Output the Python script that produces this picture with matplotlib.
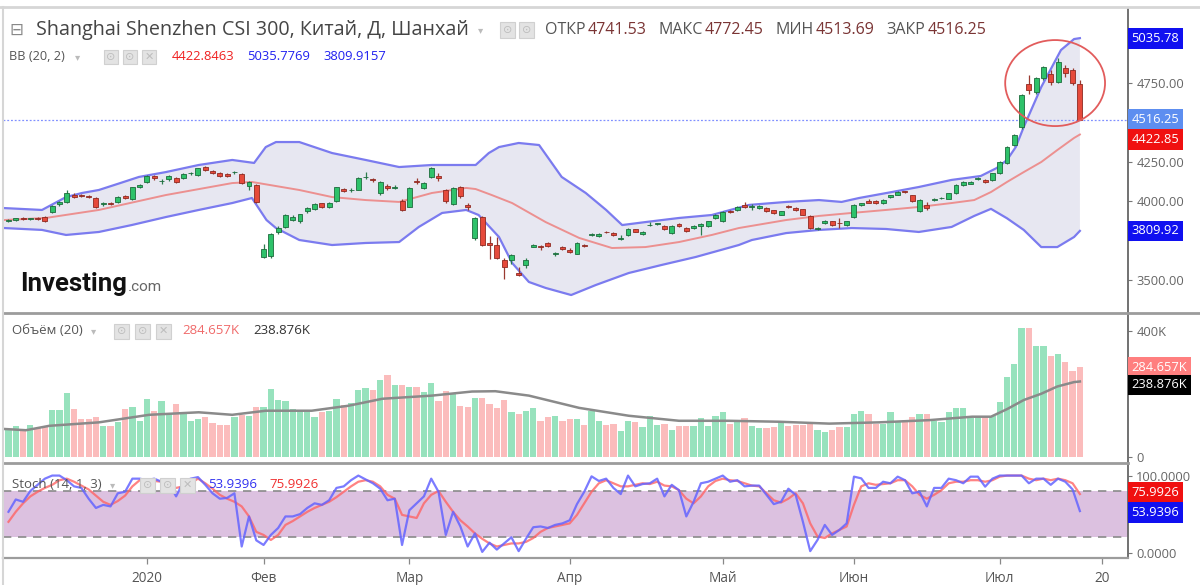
import numpy as np
import matplotlib
matplotlib.use("Agg")
import matplotlib.pyplot as plt
from matplotlib.patches import Ellipse, Rectangle
from matplotlib.lines import Line2D

plt.rcParams['font.family'] = ['Open Sans', 'DejaVu Sans']

W, H = 1200, 585

# bar index, 0 = 2 Jan 2020 (daily bars, 5 Dec 2019 .. 16 Jul 2020)
bars = np.arange(-19, 129)

opens = [3872, 3880, 3891, 3885, 3890, 3900, 3932, 3978, 3996, 4040,
         4036, 4034, 4019, 3980, 3987, 3996, 4030, 4011, 4087, 4123,
         4160, 4125, 4137, 4144, 4144, 4175, 4166, 4215, 4192, 4175,
         4172, 4182, 4172, 4095, 4102, 3646, 3650, 3800, 3835, 3880,
         3870, 3935, 3950, 3985, 3962, 3998, 4076, 4068, 4072, 4150,
         4140, 4050, 4095, 4085, 3998, 3965, 4128, 4082, 4152, 4160,
         4070, 3980, 4090, 3975, 3766, 3900, 3730, 3722, 3625, 3626,
         3545, 3592, 3710, 3712, 3730, 3660, 3710, 3690, 3665, 3718,
         3785, 3780, 3805, 3795, 3760, 3781, 3820, 3792, 3845, 3853,
         3843, 3796, 3853, 3826, 3826, 3840, 3838, 3890, 3871, 3935,
         3943, 3972, 3964, 3955, 3955, 3940, 3913, 3968, 3955, 3947,
         3905, 3824, 3860, 3870, 3860, 3849, 3900, 3976, 4003, 3998,
         3988, 4023, 4040, 4060, 4036, 3938, 3975, 4006, 4017, 4015,
         4049, 4100, 4110, 4140, 4136, 4136, 4178, 4243, 4356, 4470,
         4745, 4693, 4782, 4808, 4757, 4846, 4833, 4741.53]
highs = [3886, 3895, 3897, 3892, 3896, 3904, 3972, 3998, 4068, 4048,
         4044, 4040, 4025, 3992, 3994, 4032, 4036, 4092, 4105, 4165,
         4168, 4140, 4165, 4150, 4178, 4186, 4212, 4222, 4198, 4182,
         4178, 4190, 4176, 4128, 4108, 3727, 3795, 3840, 3915, 3910,
         3920, 3960, 3988, 3990, 3992, 4090, 4083, 4080, 4150, 4187,
         4145, 4128, 4110, 4100, 4010, 4088, 4145, 4118, 4215, 4175,
         4075, 4088, 4095, 3985, 3900, 3905, 3775, 3770, 3640, 3662,
         3580, 3635, 3728, 3720, 3740, 3675, 3715, 3700, 3740, 3725,
         3795, 3797, 3812, 3800, 3785, 3830, 3825, 3810, 3866, 3862,
         3848, 3848, 3858, 3832, 3848, 3860, 3875, 3915, 3936, 3940,
         3968, 3996, 3980, 3975, 3960, 3945, 3938, 3972, 3960, 3952,
         3910, 3835, 3880, 3875, 3890, 3875, 3980, 3990, 4010, 4004,
         4010, 4040, 4062, 4065, 4040, 4010, 3996, 4020, 4026, 4054,
         4106, 4130, 4128, 4150, 4140, 4180, 4252, 4348, 4426, 4680,
         4800, 4790, 4860, 4835, 4910, 4865, 4845, 4772.45]
lows = [3866, 3874, 3880, 3876, 3878, 3868, 3925, 3970, 3990, 4022,
        4026, 4018, 3955, 3970, 3975, 3990, 4015, 4005, 4082, 4115,
        4135, 4108, 4130, 4115, 4138, 4165, 4160, 4190, 4170, 4155,
        4152, 4170, 4105, 4068, 3990, 3640, 3640, 3790, 3828, 3870,
        3862, 3925, 3945, 3955, 3955, 3992, 4055, 4060, 4068, 4140,
        4120, 4040, 4070, 4075, 3935, 3960, 4105, 4075, 4148, 4130,
        3985, 3975, 4020, 3945, 3750, 3715, 3630, 3630, 3505, 3600,
        3520, 3575, 3705, 3690, 3708, 3650, 3688, 3672, 3660, 3705,
        3775, 3772, 3795, 3775, 3755, 3775, 3800, 3785, 3840, 3845,
        3815, 3790, 3835, 3800, 3820, 3785, 3832, 3885, 3866, 3922,
        3938, 3958, 3940, 3950, 3928, 3915, 3908, 3955, 3938, 3908,
        3820, 3815, 3855, 3843, 3826, 3843, 3895, 3970, 3985, 3980,
        3983, 4018, 4035, 4050, 3995, 3930, 3945, 4000, 4012, 4010,
        4045, 4095, 4105, 4135, 4112, 4130, 4172, 4238, 4350, 4460,
        4680, 4680, 4770, 4740, 4750, 4790, 4740, 4513.69]
closes = [3880, 3890, 3887, 3886, 3884, 3872, 3968, 3994, 4049, 4028,
          4032, 4025, 3964, 3986, 3984, 4027, 4022, 4087, 4100, 4159,
          4144, 4130, 4159, 4123, 4172, 4177, 4208, 4200, 4178, 4162,
          4160, 4185, 4112, 4123, 3996, 3693, 3790, 3826, 3910, 3900,
          3915, 3955, 3983, 3962, 3988, 4087, 4065, 4072, 4145, 4151,
          4134, 4123, 4085, 4088, 3943, 4083, 4118, 4112, 4208, 4148,
          3997, 4083, 4030, 3960, 3895, 3722, 3718, 3636, 3582, 3655,
          3530, 3625, 3722, 3708, 3715, 3668, 3695, 3678, 3735, 3712,
          3790, 3790, 3800, 3782, 3762, 3824, 3805, 3805, 3850, 3856,
          3822, 3843, 3840, 3808, 3843, 3855, 3871, 3910, 3932, 3930,
          3964, 3964, 3966, 3970, 3934, 3921, 3934, 3962, 3943, 3913,
          3826, 3828, 3875, 3848, 3858, 3870, 3975, 3985, 3990, 3985,
          4006, 4036, 4058, 4056, 4000, 4006, 3955, 4015, 4021, 4049,
          4102, 4120, 4124, 4145, 4119, 4175, 4248, 4343, 4420, 4674,
          4706, 4782, 4852, 4757, 4884, 4814, 4750, 4516.25]

volumes_k = [84, 98, 84, 100, 92, 95, 148, 148, 201, 151,
             120, 120, 125, 98, 98, 109, 151, 157, 114, 184,
             146, 176, 136, 167, 138, 114, 120, 127, 106, 102,
             102, 127, 133, 130, 159, 159, 214, 180, 178, 151,
             146, 141, 127, 141, 146, 184, 165, 169, 212, 217,
             212, 244, 260, 229, 229, 221, 221, 205, 234, 178,
             210, 200, 162, 159, 187, 186, 167, 155, 180, 141,
             136, 144, 155, 112, 125, 130, 114, 120, 120, 101,
             144, 112, 101, 103, 82, 112, 109, 95, 130, 101,
             103, 85, 98, 98, 98, 123, 98, 130, 141, 105,
             114, 123, 98, 91, 91, 93, 109, 98, 101, 101,
             103, 84, 79, 84, 95, 95, 136, 144, 136, 103,
             103, 141, 114, 117, 127, 136, 136, 114, 109, 141,
             155, 155, 123, 127, 130, 130, 173, 253, 293, 408,
             408, 351, 351, 319, 326, 301, 272, 284.657]

stoch_k = [53, 69, 66, 80, 88, 96, 100, 100, 94, 86,
           84, 70, 58, 62, 60, 77, 79, 96, 96, 94,
           96, 92, 90, 73, 92, 96, 98, 88, 77, 70,
           71, 77, 8, 47, 16, 10, 23, 32, 47, 47,
           50, 58, 64, 62, 68, 84, 86, 94, 100, 95,
           90, 83, 68, 70, 10, 55, 64, 73, 96, 79,
           23, 53, 34, 8, 25, 1, 13, 4, 12, 20,
           2, 18, 33, 34, 32, 36, 38, 42, 63, 79,
           99, 93, 96, 84, 76, 100, 86, 89, 90, 96,
           73, 88, 81, 47, 66, 90, 92, 96, 100, 92,
           94, 86, 87, 87, 75, 63, 66, 83, 75, 40,
           2, 16.5, 36, 23, 29.5, 38, 98.6, 96.4, 84, 84,
           92, 90, 98.6, 94, 77, 79, 60, 84, 84, 96,
           94, 90, 98.6, 98.6, 85.6, 96, 100, 100, 100, 100,
           90, 96, 96, 88, 96, 92, 82, 53.9396]
stoch_d = [40, 53, 64, 73, 79, 84, 88, 94, 96, 92,
           87, 82, 74, 66, 62, 67, 74, 86, 94, 94,
           93, 92, 86, 84, 86, 90, 96, 90, 83, 75,
           70, 66, 60, 47, 27, 23, 16.5, 23, 36, 41,
           47, 53, 58, 62, 66, 72, 79, 86, 92, 94,
           92, 86, 75, 70, 49, 47, 45, 64, 75, 80,
           66, 53, 42, 34, 25, 18, 12, 8, 10, 12,
           12, 14, 19, 27, 32, 34, 36, 38, 49, 64,
           79, 90, 94, 90, 86, 86, 88, 90, 89, 92,
           87, 86, 81, 70, 64, 73, 86, 93, 96, 94,
           93, 90, 87, 86, 77, 68, 65, 70, 77, 64,
           38, 21, 19, 25, 29.5, 34, 62, 86, 90, 88,
           89, 90, 94, 94, 86, 75, 70, 75, 81, 90,
           92, 92, 94, 94, 92, 94, 98.6, 100, 100, 100,
           96, 94, 96, 94, 96, 94, 90, 75.9926]

# Bollinger band lines, read at points along each curve (bar index, price)
bb_up_x = [-19.6, -14.4, -11.1, -8.9, -6.6, -3.8, -1.1, 2.6, 7.1, 11.7, 14.7, 16.3,
           17.7, 20.9, 25.4, 30, 34.6, 39.1, 45.1, 46.9, 48.3, 51, 53.8, 56.9,
           60.2, 63, 65.2, 68.4, 73, 77.5, 82.6, 87.7, 92.2, 95.3, 97.7, 102.2,
           105.9, 110.4, 114.4, 116.6, 118, 119.2, 120.3, 122.7, 125.4, 127.2, 128]
bb_up = [3955, 3943, 4025, 4051, 4070, 4112, 4153, 4184, 4229, 4261, 4242, 4343,
         4375, 4375, 4305, 4261, 4216, 4229, 4229, 4305, 4343, 4369, 4356, 4153,
         4051, 3943, 3847, 3866, 3892, 3911, 3975, 3994, 4006, 3994, 4019, 4057,
         4089, 4134, 4159, 4210, 4261, 4343, 4471, 4725, 4960, 5030, 5035.78]
bb_mid_x = [-19.6, -13.9, -6.6, 2.6, 11.7, 14.4, 20.9, 25.4, 30, 34.6, 39.1, 43.8,
            45.1, 47.3, 50.1, 54.7, 59.3, 63.8, 68.4, 73, 77.5, 81.2, 87.7, 92.2,
            96.7, 101.4, 105.9, 110.4, 113.5, 115.8, 118, 120.3, 122.7, 124.9, 127.2, 128]
bb_mid = [3879, 3892, 3943, 4038, 4114, 4121, 4070, 4025, 4006, 3994, 4051, 4083,
          4076, 4038, 3987, 3866, 3765, 3701, 3707, 3739, 3784, 3828, 3879, 3905,
          3924, 3943, 3962, 3987, 4006, 4057, 4121, 4184, 4248, 4324, 4401, 4422.85]
bb_low_x = [-19.6, -14.4, -11.1, -6.6, -2.1, 2.6, 7.1, 11.7, 14.4, 16.4, 17.7, 20.9,
            25.4, 30, 34.6, 37.3, 40.5, 43.8, 45.5, 48.3, 50.1, 52.4, 54.7, 58.2,
            61.6, 66.1, 70.6, 75.3, 81.2, 83, 87.7, 92.2, 96.7, 101.4, 105.9, 110.4,
            113.5, 115.8, 118, 120.3, 122.7, 124.9, 127.2, 128]
bb_low = [3828, 3816, 3784, 3803, 3847, 3898, 3943, 3987, 4019, 3879, 3828, 3752,
          3720, 3733, 3739, 3835, 3924, 3943, 3911, 3771, 3606, 3485, 3447, 3402,
          3466, 3542, 3593, 3644, 3720, 3752, 3796, 3816, 3828, 3822, 3803, 3835,
          3905, 3950, 3890, 3816, 3707, 3707, 3771, 3809.92]

# 20-bar volume average, read at points along the grey line (bar index, K)
vol_ma_x = [-19.6, -16.6, -13.4, -6.6, 0.3, 7.1, 11.7, 16.3, 22.6, 27.7, 32.3, 39.1,
            44.6, 47.8, 52.4, 59.3, 66.1, 73, 79.8, 86.7, 93.6, 100.4, 107.3, 113.2,
            115.8, 118, 120.3, 122.7, 124.9, 127.2, 128]
vol_ma_k = [88, 84, 98, 109, 133, 141, 133, 146, 146, 162, 184, 194,
            207, 208, 194, 155, 130, 114, 114, 111, 105, 109, 116, 127,
            127, 151, 180, 200, 223, 237, 238.876]

month_ticks = [0, 16, 36, 58, 79, 97, 117, 131]
month_labels = ['2020', 'Фев', 'Мар', 'Апр', 'Май', 'Июн', 'Июл', '20']
price_ticks = [3500, 3750, 4000, 4250, 4500, 4750, 5000]
# labels hidden behind the coloured value boxes on the chart
price_hidden = {3750, 4500, 5000}

o = np.array(opens); h = np.array(highs); l = np.array(lows); c = np.array(closes)
vol = np.array(volumes_k) * 1000
up = c >= o


def fx(x):
    return x / W


def fy(y):
    return 1 - y / H


def px_axes(x0, y0, x1, y1):
    return fig.add_axes([fx(x0), fy(y1), (x1 - x0) / W, (y1 - y0) / H])


fig = plt.figure(figsize=(12, 5.85), dpi=100)
fig.patch.set_facecolor('white')

ax1 = px_axes(3, 8, 1128, 312)
ax2 = px_axes(3, 313, 1128, 462)
ax3 = px_axes(3, 463, 1128, 558)

XL = (-19.75, 134.6)
for ax in (ax1, ax2, ax3):
    ax.set_xlim(*XL)
    ax.set_facecolor('white')
    for s in ('top', 'left', 'bottom'):
        ax.spines[s].set_visible(False)
    ax.spines['right'].set_color('#666666')
    ax.spines['right'].set_linewidth(1.3)
    ax.yaxis.tick_right()
    ax.tick_params(axis='y', length=3, width=0.8, colors='#777777',
                   labelsize=9.3, labelcolor='#666666', pad=3)
    ax.tick_params(axis='x', bottom=False, labelbottom=False)

# ---- price panel ----
ax1.set_ylim(3294, 5227.5)
ax1.fill(np.r_[bb_up_x, bb_low_x[::-1]], np.r_[bb_up, bb_low[::-1]],
         color='#e7e7f1', lw=0, zorder=1)
ax1.plot(bb_up_x, bb_up, color='#7b7bef', lw=1.6, zorder=2)
ax1.plot(bb_low_x, bb_low, color='#7b7bef', lw=1.6, zorder=2)
ax1.plot(bb_mid_x, bb_mid, color='#ec9090', lw=1.4, zorder=2)
ax1.axhline(c[-1], color='#8090ff', lw=0.9, ls=(0, (1.5, 1.5)), zorder=2)

wick_col = np.where(up, '#2b7d4d', '#9a3a30').tolist()
ax1.vlines(bars, l, h, colors=wick_col, lw=0.9, zorder=3)
body_h = np.maximum(np.abs(c - o), 5)
ax1.bar(bars, body_h, bottom=np.minimum(o, c), width=0.68,
        color=np.where(up, '#2ec26a', '#e64a3b').tolist(),
        edgecolor=np.where(up, '#1d6b3c', '#8e2a22').tolist(), lw=0.6, zorder=4)

# red circle around the July run
ax1.add_patch(Ellipse((124.6, 4750), 13.7, 547, fill=False, ec='#e25c5c', lw=1.3, zorder=5))

ax1.set_yticks(price_ticks)
ax1.set_yticklabels(['' if v in price_hidden else f'{v:.2f}' for v in price_ticks])

# ---- volume panel ----
ax2.set_ylim(-17000, 456600)
ax2.bar(bars, vol, width=0.86, color=np.where(up, '#97e2bd', '#fbbcbc').tolist(), lw=0, zorder=2)
ax2.plot(vol_ma_x, np.array(vol_ma_k) * 1000, color='#8a8a8a', lw=1.8, zorder=3)
ax2.set_yticks([0, 200000, 400000])
ax2.set_yticklabels(['0', '', '400K'])

# ---- stochastic panel ----
ax3.set_ylim(-6.9, 116.3)
ax3.axhspan(20, 80, color='#dcc1e0', lw=0, zorder=1)
for lev in (20, 80):
    ax3.axhline(lev, color='#8a8a8a', lw=1.2, ls=(0, (5, 4)), zorder=2)
ax3.plot(bars, stoch_k, color='#6464ff', lw=1.6, alpha=0.85, zorder=4)
ax3.plot(bars, stoch_d, color='#ff6464', lw=1.6, alpha=0.8, zorder=3)
ax3.set_yticks([0, 50, 100])
ax3.set_yticklabels(['0.0000', '', '100.0000'])
ax3.set_xticks(month_ticks)
ax3.set_xticklabels(month_labels)
ax3.tick_params(axis='x', bottom=True, labelbottom=True, length=4, width=0.9,
                colors='#888888', labelcolor='#555555', labelsize=9.8, pad=5)


def value_box(ax, y, text, fc, dy=0, tc='white'):
    ax.annotate(text, xy=(1, y), xycoords=ax.get_yaxis_transform(),
                xytext=(2.6, dy), textcoords='offset points', ha='left', va='center',
                fontsize=9.3, color=tc, zorder=10, annotation_clip=False,
                bbox=dict(boxstyle='square,pad=0.3', fc=fc, ec='none'))


value_box(ax1, bb_up[-1], f'{bb_up[-1]:.2f}', '#1010f0')
value_box(ax1, c[-1], f'{c[-1]:.2f}', '#5d8ef0')
value_box(ax1, bb_mid[-1], f'{bb_mid[-1]:.2f}', '#f01010', dy=-3.5)
value_box(ax1, bb_low[-1], f'{bb_low[-1]:.2f}', '#1010f0')
value_box(ax2, vol[-1], f'{volumes_k[-1]:.3f}K', '#ff7f7f')
value_box(ax2, vol_ma_k[-1] * 1000, f'{vol_ma_k[-1]:.3f}K', '#000000', dy=-2.5)
value_box(ax3, stoch_d[-1], f'{stoch_d[-1]:.4f}', '#f01010', dy=1)
value_box(ax3, stoch_k[-1], f'{stoch_k[-1]:.4f}', '#1010f0', dy=-1)


# ---- frame and panel separators ----
def hline(y, x0, x1, col, lw):
    fig.add_artist(Line2D([fx(x0), fx(x1)], [fy(y), fy(y)], color=col, lw=lw))


hline(7, 0, 1200, '#d6d6d6', 2.0)
hline(312.5, 3, 1200, '#9c9c9c', 2.0)
hline(462.5, 3, 1128, '#9c9c9c', 2.0)
hline(558, 3, 1128, '#9c9c9c', 1.6)
fig.add_artist(Line2D([fx(3), fx(3)], [fy(7), fy(585)], color='#d6d6d6', lw=1.5))

renderer = fig.canvas.get_renderer()


# ---- header texts ----
def ftext(x, y, s, col, size, va='center', **kw):
    return fig.text(fx(x), fy(y), s, color=col, fontsize=size, ha='left', va=va, **kw)


def chain(x, y, pieces, size, va='center'):
    # pieces: (text, colour, gap after, extra kwargs); 'size' in kwargs overrides
    for s, col, gap, kw in pieces:
        kw = dict(kw)
        sz = kw.pop('size', size)
        t = ftext(x, y, s, col, sz, va=va, **kw)
        x = t.get_window_extent(renderer).x1 + gap
    return x


def icon(x, y, sym='⊙', size=15):
    fig.add_artist(Rectangle((fx(x), fy(y + size / 2)), size / W, size / H,
                             fc='#e3e3e3', ec='#d0d0d0', lw=0.8))
    fig.text(fx(x + size / 2), fy(y), sym, color='#bdbdbd', fontsize=8,
             ha='center', va='center', family=['DejaVu Sans'])


arrow = {'family': ['DejaVu Sans'], 'size': 7.5}
ftext(9, 30, '⊟', '#888888', 12, family=['DejaVu Sans'])
chain(36, 30, [('Shanghai Shenzhen CSI 300, Китай, Д, Шанхай', '#454545', 9, {}),
               ('▾', '#bbbbbb', 0, arrow)], 14.2)
icon(500, 30)
icon(519, 30)
brown = '#7a3434'
chain(545, 30, [('ОТКР', '#555555', 2, {}), ('4741.53', brown, 12, {}),
                ('МАКС', '#555555', 2, {}), ('4772.45', brown, 12, {}),
                ('МИН', '#555555', 2, {}), ('4513.69', brown, 12, {}),
                ('ЗАКР', '#555555', 2, {}), ('4516.25', brown, 0, {})], 11.5)

chain(9, 57, [('BB (20, 2)', '#555555', 10, {}), ('▾', '#bbbbbb', 0, arrow)], 9.2)
icon(104, 57, size=14)
icon(123, 57, size=14)
icon(142, 57, '✕', size=14)
chain(172, 57, [('4422.8463', '#f02020', 12, {}), ('5035.7769', '#2020f0', 14, {}),
                ('3809.9157', '#2020f0', 0, {})], 9.4)

chain(12, 331, [('Объём (20)', '#555555', 8, {}), ('▾', '#bbbbbb', 0, arrow)], 9.5)
icon(114, 331, size=15)
icon(135, 331, size=15)
icon(156, 331, '✕', size=15)
chain(182, 331, [('284.657K', '#f06a6a', 14, {}), ('238.876K', '#333333', 0, {})], 9.5)

chain(12, 485, [('Stoch (14, 1, 3)', '#555555', 8, {}), ('▾', '#bbbbbb', 0, arrow)], 9.5)
icon(140, 485, size=15)
icon(160, 485, size=15)
icon(180, 485, '✕', size=15)
chain(208, 485, [('53.9396', '#3030f0', 12, {}), ('75.9926', '#f03030', 0, {})], 9.5)

# watermark
chain(20, 291, [('Investing', '#111111', 1, {'weight': 'bold', 'family': ['Roboto', 'DejaVu Sans']}),
                ('.com', '#666666', 0, {'size': 11, 'family': ['Roboto', 'DejaVu Sans']})],
      18.5, va='baseline')

fig.savefig('out.png', dpi=100, facecolor='white')
